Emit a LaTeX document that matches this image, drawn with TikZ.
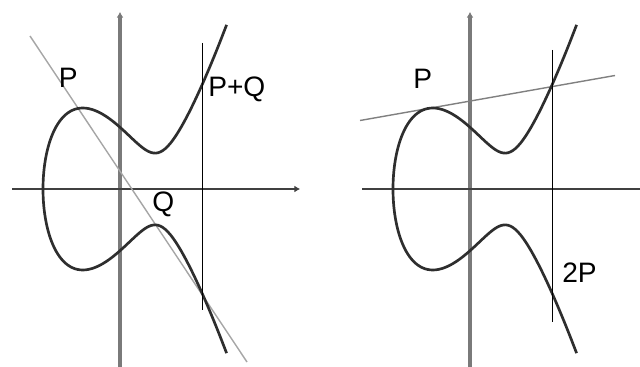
\documentclass[tikz,border=0pt]{standalone}
\usepackage{fontspec}
\setmainfont{Liberation Sans}
\usetikzlibrary{arrows.meta}

\begin{document}
\begin{tikzpicture}[
  x=0.025cm, y=-0.025cm,
  declare function={tt(\s)=-0.77+\s*\s; qq(\t)=2.7916*\t*\t-2.0629*\t+0.4947;},
  yaxis/.style={line width=2.6pt, black!52},
  xaxis/.style={line width=1.7pt, black!75},
  tip/.style={-{Latex[length=4pt,width=5pt]}},
  curve/.style={line width=1.9pt, black!82, line join=round},
  vline/.style={line width=0.7pt, black},
  chord/.style={line width=1pt, black!35},
  lbl/.style={anchor=base west, inner sep=0pt, font=\fontsize{20}{24}\selectfont}
]
  \useasboundingbox (0,0) rectangle (640,367);
  \clip (0,0) rectangle (640,367);

  \coordinate (yl0) at (120,367);
  \coordinate (yl1) at (120,12);
  \coordinate (xl0) at (12,189);
  \coordinate (xl1) at (300,189);
  \coordinate (yr0) at (470,367);
  \coordinate (yr1) at (470,12);
  \coordinate (xr0) at (362,189);
  \coordinate (xr1) at (640,189);
  \coordinate (vl0) at (202,43);
  \coordinate (vl1) at (202,310);
  \coordinate (vr0) at (552,50);
  \coordinate (vr1) at (552,322);
  \coordinate (sec0) at (30,36);
  \coordinate (sec1) at (247,362);
  \coordinate (tan0) at (360,120.5);
  \coordinate (tan1) at (615,75.5);

  \draw[yaxis,tip] (yl0) -- (yl1);
  \draw[yaxis,tip] (yr0) -- (yr1);
  \draw[xaxis,tip] (xl0) -- (xl1);
  \draw[xaxis] (xr0) -- (xr1);

  \draw[chord] (sec0) -- (sec1);
  \draw[chord,black!50] (tan0) -- (tan1);

  \foreach \ox in {0,350}
    \draw[curve] plot[domain=-1.355:1.355, samples=121, smooth]
      ({\ox+120+100*tt(\x)}, {189-100*\x*sqrt(qq(tt(\x)))});

  \draw[vline] (vl0) -- (vl1);
  \draw[vline] (vr0) -- (vr1);

  \node[lbl] (pl) at (58.5,88) {P};
  \node[lbl] (pq) at (208,97) {P+Q};
  \node[lbl] (q) at (152,212) {Q};
  \node[lbl] (pr) at (413,89) {P};
  \node[lbl] (twop) at (562,283) {2P};
\end{tikzpicture}
\end{document}
